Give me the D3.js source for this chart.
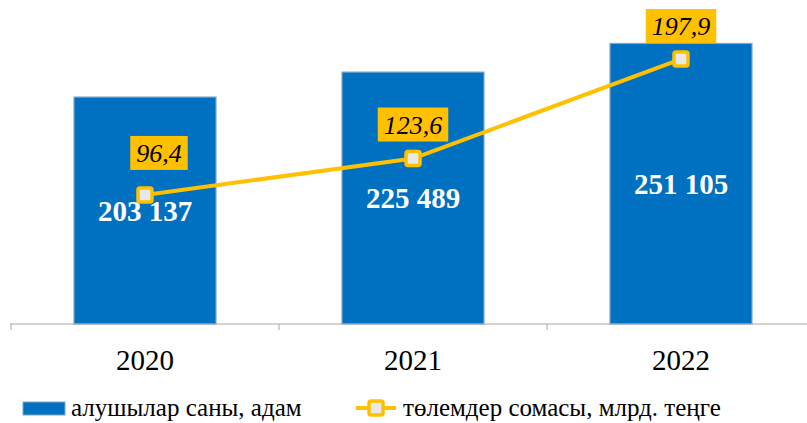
<!DOCTYPE html>
<html>
<head>
<meta charset="utf-8">
<script src="https://cdn.jsdelivr.net/npm/d3@7"></script>
<style>
  body { margin: 0; background: #fff; }
</style>
</head>
<body>
<svg width="807" height="423" font-family="'Liberation Serif', 'Times New Roman', 'DejaVu Serif', serif"></svg>
<script>
var years = ["2020", "2021", "2022"];
var recipients = [203137, 225489, 251105];
var payments = [96.4, 123.6, 197.9];
var paymentLabels = ["96,4", "123,6", "197,9"];
var recipientLabels = ["203 137", "225 489", "251 105"];
var seriesNames = ["алушылар саны, адам", "төлемдер сомасы, млрд. теңге"];

var blue = "#0070C0",
    gold = "#FFC000",
    serif = "'Liberation Serif', 'Times New Roman', serif";

var svg = d3.select("svg");

var x = d3.scaleBand()
    .domain(years)
    .range([11, 815]);

var y = d3.scaleLinear()
    .domain([0, 290000])
    .range([324, 0]);

var y2 = d3.scaleLinear()
    .domain([0, 242])
    .range([324, 0]);

var barW = 142;

// bars
svg.append("g")
  .selectAll("rect")
  .data(recipients)
  .enter().append("rect")
    .attr("x", (d, i) => x(years[i]) + x.bandwidth() / 2 - barW / 2)
    .attr("y", d => y(d))
    .attr("width", barW)
    .attr("height", d => y(0) - y(d))
    .attr("fill", blue)
    .attr("stroke", "#7fa6cf")
    .attr("stroke-width", 1.2);

// bar labels
svg.append("g")
  .selectAll("text")
  .data(recipients)
  .enter().append("text")
    .attr("x", (d, i) => x(years[i]) + x.bandwidth() / 2)
    .attr("y", d => (y(d) + y(0)) / 2)
    .attr("dy", "0.35em")
    .attr("text-anchor", "middle")
    .attr("font-family", serif)
    .attr("fill", "#fff")
    .attr("font-weight", "bold")
    .attr("font-size", 29)
    .text((d, i) => recipientLabels[i]);

// x axis
var axis = svg.append("g").attr("transform", "translate(0,324)");
axis.append("line")
    .attr("x1", 10).attr("x2", 807)
    .attr("stroke", "#a6a6a6").attr("stroke-width", 1);
axis.selectAll(".tk")
  .data(d3.range(years.length + 1))
  .enter().append("line")
    .attr("x1", i => 11 + i * x.step())
    .attr("x2", i => 11 + i * x.step())
    .attr("y1", 0).attr("y2", 6)
    .attr("stroke", "#a6a6a6");
axis.selectAll(".lbl")
  .data(years)
  .enter().append("text")
    .attr("x", d => x(d) + x.bandwidth() / 2)
    .attr("y", 36)
    .attr("dy", "0.35em")
    .attr("text-anchor", "middle")
    .attr("font-family", serif)
    .attr("font-size", 29)
    .attr("fill", "#000")
    .text(d => d);

// line
var pts = payments.map((v, i) => [x(years[i]) + x.bandwidth() / 2, y2(v)]);
svg.append("path")
    .attr("d", d3.line()(pts))
    .attr("fill", "none")
    .attr("stroke", gold)
    .attr("stroke-width", 4);

svg.append("g")
  .selectAll("rect")
  .data(pts)
  .enter().append("rect")
    .attr("x", d => d[0] - 7)
    .attr("y", d => d[1] - 7)
    .attr("width", 14).attr("height", 14)
    .attr("rx", 2)
    .attr("fill", "#e8e8e8")
    .attr("stroke", gold)
    .attr("stroke-width", 3.5);

// line labels
var nudge = [[14, -42], [0, -34], [0, -33]];
var lab = svg.append("g")
  .selectAll("g")
  .data(pts)
  .enter().append("g")
    .attr("transform", (d, i) => "translate(" + (d[0] + nudge[i][0]) + "," + (d[1] + nudge[i][1]) + ")");
lab.append("text")
    .attr("text-anchor", "middle")
    .attr("dy", "0.35em")
    .attr("font-family", serif)
    .attr("font-style", "italic")
    .attr("font-size", 26)
    .attr("fill", "#000")
    .text((d, i) => paymentLabels[i]);
lab.each(function() {
  var g = d3.select(this);
  var bb = g.select("text").node().getBBox();
  g.insert("rect", "text")
    .attr("x", bb.x - 6).attr("y", -17)
    .attr("width", bb.width + 12).attr("height", 34)
    .attr("fill", gold);
});

// legend
var legY = 408;
var leg = svg.append("g");
leg.append("rect")
    .attr("x", 23).attr("y", legY - 6)
    .attr("width", 42).attr("height", 13)
    .attr("fill", blue)
    .attr("stroke", "#7fa6cf");
leg.append("text")
    .attr("x", 71).attr("y", legY)
    .attr("dy", "0.3em")
    .attr("font-family", serif)
    .attr("font-size", 25)
    .text(seriesNames[0]);
leg.append("line")
    .attr("x1", 356).attr("x2", 396)
    .attr("y1", legY).attr("y2", legY)
    .attr("stroke", gold).attr("stroke-width", 4);
leg.append("rect")
    .attr("x", 369).attr("y", legY - 7)
    .attr("width", 14).attr("height", 14)
    .attr("rx", 2)
    .attr("fill", "#e8e8e8")
    .attr("stroke", gold)
    .attr("stroke-width", 3.5);
leg.append("text")
    .attr("x", 403).attr("y", legY)
    .attr("dy", "0.3em")
    .attr("font-family", serif)
    .attr("font-size", 25)
    .text(seriesNames[1]);
</script>
</body>
</html>
